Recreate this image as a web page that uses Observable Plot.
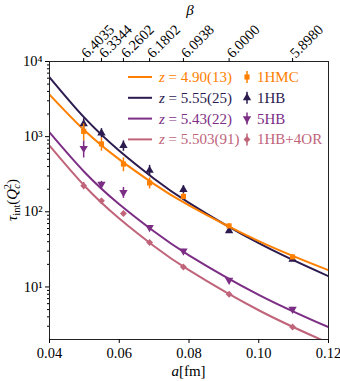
<!DOCTYPE html>
<html><head><meta charset="utf-8">
<script src="https://cdn.jsdelivr.net/npm/d3@7"></script>
<script src="https://cdn.jsdelivr.net/npm/@observablehq/plot@0.6"></script>
<style>body{margin:0;background:#fff;} svg{font-family:"Liberation Serif",serif;}</style>
</head><body><div id="chart"></div>
<script>
// lattice spacings a[fm] and matching beta values (top axis)
const aLat = [0.0498, 0.0549, 0.0612, 0.0687, 0.0784, 0.0915, 0.1097];
const betaLabels = ["6.4035", "6.3344", "6.2602", "6.1802", "6.0938", "6.0000", "5.8980"];

// series names, colors, fit exponents
const seriesNames = ["1HMC", "1HB", "5HB", "1HB+4OR"];
const seriesColors = ["#ff8000", "#2c1b4f", "#7c2e85", "#c0647a"];
const fitLabels = ["4.90(13)", "5.55(25)", "5.43(22)", "5.503(91)"];
const symbols = ["square", "triangle", "triangle", "diamond2"];
const rotations = [0, 0, 180, 0];
const radii = [2.9, 3.1, 3.1, 3.1];

// tau_int values and errors
const tau1HMC = [1177, 800, 432, 242, 160, 65, 25.1];
const err1HMC = [300, 160, 90, 40, 15, 4, 1.5];
const tau1HB = [1476, 1118, 759, 355, 197, 55.8, 23.4];
const err1HB = [260, 160, 120, 60, 25, 4, 1.5];
const tau5HB = [700, 234, 181, 61.8, 30.2, 12.3, 5.05];
const err5HB = [180, 20, 30, 3, 1.5, 0.7, 0.3];
const tauOR = [222, 140, 95, 39, 18.4, 8.0, 2.93];
const errOR = [25, 10, 6, 2, 1, 0.4, 0.15];

// fit curves
const curveA = [0.04, 0.05, 0.06, 0.07, 0.08, 0.10, 0.12];
const fit1HMC = [3630, 1216, 498, 234, 121.6, 40.7, 16.7];
const fit1HB = [6170, 1789, 650, 276, 131.7, 38.2, 13.9];
const fit5HB = [1140, 339, 126, 54.6, 26.4, 7.87, 2.92];
const fitOR = [759, 222.4, 81.5, 34.9, 16.75, 4.90, 1.80];

// axis ticks
const xTicks = [0.04, 0.06, 0.08, 0.10, 0.12];
const yMajor = [10, 100, 1000, 10000];
const yMinor = [3,4,5,6,7,8,9,20,30,40,50,60,70,80,90,200,300,400,500,600,700,800,900,2000,3000,4000,5000,6000,7000,8000,9000];
const sup = {"1":"¹","2":"²","3":"³","4":"⁴"};

const taus = [tau1HMC, tau1HB, tau5HB, tauOR];
const errs = [err1HMC, err1HB, err5HB, errOR];
const fits = [fit1HMC, fit1HB, fit5HB, fitOR];

const points = [], curves = [];
seriesNames.forEach((s, k) => {
  aLat.forEach((a, i) => points.push({s, k, a, t: taus[k][i], lo: taus[k][i] - errs[k][i], hi: taus[k][i] + errs[k][i]}));
  curveA.forEach((a, i) => curves.push({s, k, a, t: fits[k][i]}));
});
const drawOrder = [1, 2, 3, 0];

const marks = [];
for (const k of drawOrder) {
  marks.push(Plot.line(curves.filter(d => d.k === k), {x: "a", y: "t", stroke: seriesColors[k], strokeWidth: 2, curve: "natural", clip: true}));
}
for (const k of drawOrder) {
  const pts = points.filter(d => d.k === k);
  marks.push(Plot.ruleX(pts, {x: "a", y1: "lo", y2: "hi", stroke: seriesColors[k], strokeWidth: 1.5, clip: true}));
  marks.push(Plot.dot(pts, {x: "a", y: "t", symbol: symbols[k], rotate: rotations[k], fill: seriesColors[k], stroke: "none", r: radii[k]}));
}

const W = 340, H = 381;
const FS = 14.5;
const plot = Plot.plot({
  width: W, height: H,
  marginLeft: 49, marginRight: 12, marginTop: 61, marginBottom: 42,
  style: {fontFamily: "Liberation Serif, serif", fontSize: FS + "px", color: "#000", background: "#fff"},
  x: {domain: [0.04, 0.12]},
  y: {type: "log", domain: [2, 10000]},
  marks: [
    ...marks,
    Plot.frame({stroke: "#222", strokeWidth: 1}),
    Plot.axisX({anchor: "bottom", ticks: xTicks, tickFormat: d3.format(".2f"), tickSize: 4, tickPadding: 4, label: null, fontSize: FS}),
    Plot.axisX({anchor: "top", ticks: aLat, tickFormat: (d, i) => betaLabels[i], tickSize: 4, tickRotate: -45, tickPadding: 2, label: null, fontSize: FS}),
    Plot.axisY({ticks: yMajor, tickFormat: d => "10" + sup[String(Math.round(Math.log10(d)))], tickSize: 4, tickPadding: 3, label: null, fontSize: FS}),
    Plot.axisY({ticks: yMinor, tickFormat: () => "", tickSize: 2, label: null})
  ]
});
document.getElementById("chart").appendChild(plot);

const svg = d3.select(plot);
const fl = 49, ft = 61, fr = W - 12, fb = H - 42;
// axis labels
svg.append("text").attr("x", (fl + fr) / 2).attr("y", H - 5).attr("text-anchor", "middle").attr("font-size", 15)
  .call(t => { t.append("tspan").attr("font-style", "italic").text("a"); t.append("tspan").text("[fm]"); });
svg.append("text").attr("x", 190).attr("y", 15).attr("text-anchor", "middle").attr("font-size", 15).attr("font-style", "italic").text("β");
const yl = svg.append("text").attr("transform", `translate(17,${(ft + fb) / 2}) rotate(-90)`).attr("text-anchor", "middle").attr("font-size", 15);
yl.append("tspan").attr("font-style", "italic").text("τ");
yl.append("tspan").attr("font-size", 10.5).attr("dy", 3).text("int");
yl.append("tspan").attr("dy", -3).text("(");
yl.append("tspan").attr("font-style", "italic").text("Q");
yl.append("tspan").attr("font-size", 10.5).attr("font-style", "italic").attr("dy", 3).text("c");
yl.append("tspan").attr("font-size", 10.5).attr("dy", -9).attr("dx", -5).text("2");
yl.append("tspan").attr("dy", 6).text(")");

// legend
const lg = svg.append("g").attr("text-anchor", "start");
seriesNames.forEach((s, k) => {
  const y = ft + 16 + k * 20.8;
  const c = seriesColors[k];
  lg.append("line").attr("x1", 128).attr("x2", 152).attr("y1", y).attr("y2", y).attr("stroke", c).attr("stroke-width", 2);
  const t = lg.append("text").attr("x", 159).attr("y", y + 5).attr("fill", c).attr("font-size", 15).attr("text-anchor", "start");
  t.append("tspan").attr("font-style", "italic").text("z");
  t.append("tspan").text(" = " + fitLabels[k]);
  const mx = 247;
  lg.append("line").attr("x1", mx).attr("x2", mx).attr("y1", y - 6).attr("y2", y + 6).attr("stroke", c).attr("stroke-width", 1.5);
  const sym = {square: d3.symbolSquare, triangle: d3.symbolTriangle, diamond2: d3.symbolDiamond2}[symbols[k]];
  const size = Math.PI * radii[k] * radii[k];
  lg.append("path").attr("d", d3.symbol(sym, size)()).attr("fill", c)
    .attr("transform", `translate(${mx},${y}) rotate(${rotations[k]})`);
  lg.append("text").attr("x", 257).attr("y", y + 5).attr("fill", c).attr("font-size", 15).attr("text-anchor", "start").text(s);
});
</script></body></html>
